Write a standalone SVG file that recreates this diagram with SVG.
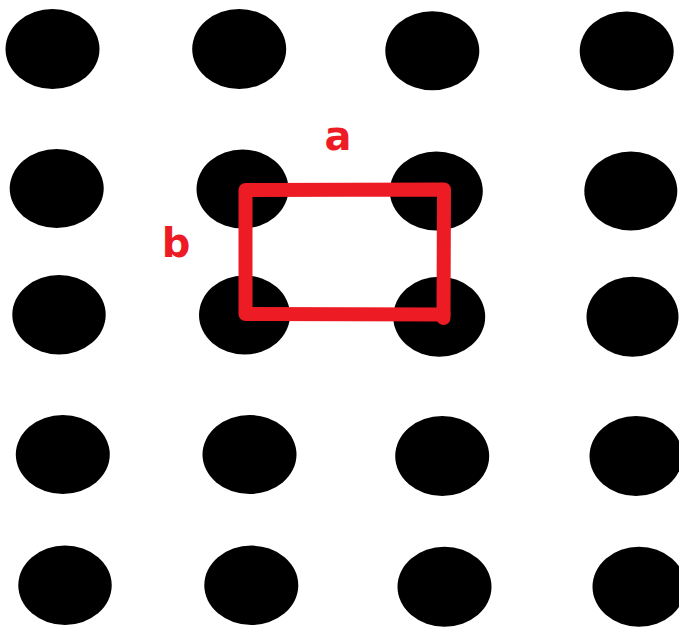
<svg xmlns="http://www.w3.org/2000/svg" width="679" height="628" viewBox="0 0 679 628">
<style>
.dot{fill:#000}
.lbl{font-family:"DejaVu Sans",Verdana,sans-serif;font-weight:bold;font-size:40px;fill:#ED1C24;text-anchor:middle}
.cell{fill:none;stroke:#ED1C24;stroke-width:14;stroke-linejoin:round;stroke-linecap:round}
</style>
<rect width="679" height="628" fill="#fff"/>
<g id="dots">
<ellipse id="d11" class="dot" cx="52.5" cy="49" rx="47" ry="40"/>
<ellipse id="d12" class="dot" cx="239.2" cy="49" rx="47" ry="40"/>
<ellipse id="d13" class="dot" cx="432.3" cy="50.8" rx="47" ry="39.5"/>
<ellipse id="d14" class="dot" cx="626.7" cy="51" rx="47" ry="39.5"/>
<ellipse id="d21" class="dot" cx="56.7" cy="188.5" rx="47" ry="39.5"/>
<ellipse id="d22" class="dot" cx="242.5" cy="189" rx="46" ry="39.5"/>
<ellipse id="d23" class="dot" cx="436.3" cy="191" rx="46.5" ry="39.5"/>
<ellipse id="d24" class="dot" cx="630.8" cy="191" rx="46.5" ry="39.5"/>
<ellipse id="d31" class="dot" cx="59" cy="314.7" rx="46.7" ry="39.7"/>
<ellipse id="d32" class="dot" cx="244.5" cy="315" rx="45.5" ry="39.5"/>
<ellipse id="d33" class="dot" cx="439.2" cy="316.7" rx="46" ry="40"/>
<ellipse id="d34" class="dot" cx="632.5" cy="316.7" rx="46" ry="40"/>
<ellipse id="d41" class="dot" cx="62.8" cy="454.5" rx="47" ry="39.5"/>
<ellipse id="d42" class="dot" cx="249.5" cy="454.5" rx="47" ry="39.5"/>
<ellipse id="d43" class="dot" cx="442.2" cy="456" rx="47" ry="40"/>
<ellipse id="d44" class="dot" cx="636" cy="456" rx="46.5" ry="40"/>
<ellipse id="d51" class="dot" cx="65" cy="585.3" rx="46.7" ry="39.7"/>
<ellipse id="d52" class="dot" cx="251.3" cy="585.3" rx="47" ry="39.7"/>
<ellipse id="d53" class="dot" cx="444.5" cy="586.7" rx="47" ry="40"/>
<ellipse id="d54" class="dot" cx="639" cy="586.7" rx="46.5" ry="40"/>
</g>
<g id="cell">
<path class="cell" d="M245.5 190 L444 189.5 L443.5 314.5 L245.5 314 Z"/>
<path class="cell" d="M443.5 314 L443.5 318"/>
</g>
<g id="labels">
<text id="label-a" class="lbl" x="338" y="150">a</text>
<text id="label-b" class="lbl" x="176" y="257">b</text>
</g>
</svg>
